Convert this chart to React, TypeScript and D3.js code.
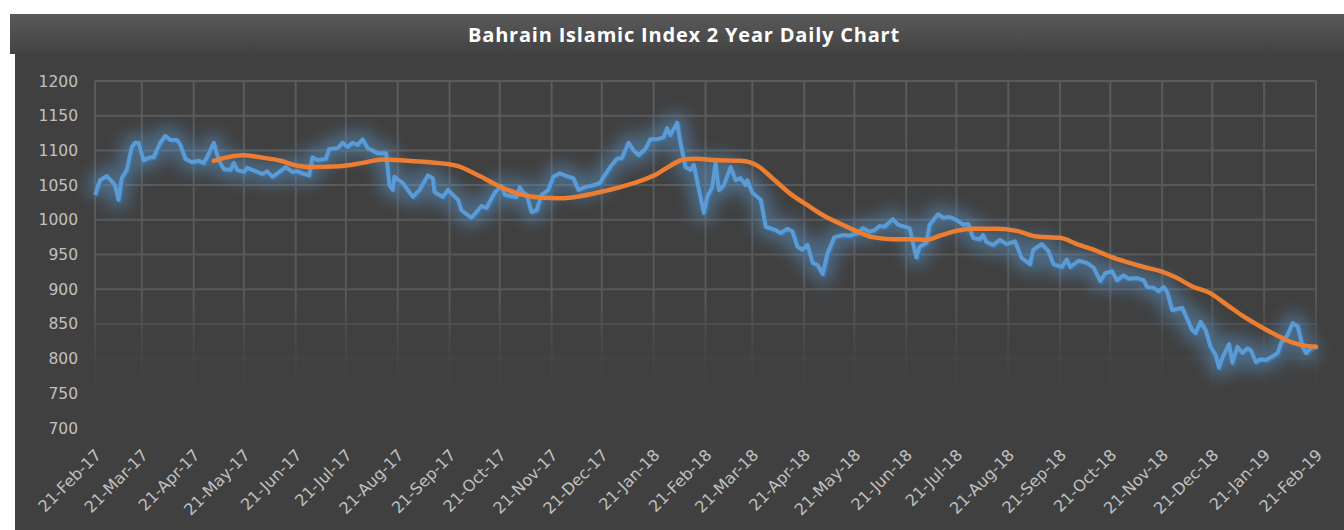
import React, { useEffect, useRef } from 'react';
import * as d3 from 'd3';

const title = "Bahrain Islamic Index 2 Year Daily Chart";
const startDate = new Date(2017, 1, 21);
const endDate = new Date(2019, 1, 21);

// index close, keyed by days since 21-Feb-17
const indexDays = [
    0, 3, 7, 11, 12, 14, 16, 19, 22, 24, 26, 29, 33, 35, 39, 42, 45, 49, 51, 54,
    58, 62, 65, 67, 71, 72, 74, 77, 81, 83, 85, 89, 91, 96, 100, 103, 106, 109, 114, 118,
    121, 124, 128, 130, 133, 138, 140, 145, 148, 151, 154, 157, 160, 163, 166, 169, 172, 174, 176, 178,
    179, 184, 190, 194, 199, 202, 203, 208, 211, 214, 217, 219, 225, 229, 231, 234, 236, 239, 243, 245,
    249, 252, 254, 256, 258, 261, 264, 267, 271, 274, 278, 282, 286, 289, 293, 298, 302, 304, 308, 312,
    315, 319, 322, 325, 329, 332, 336, 340, 342, 344, 348, 350, 353, 356, 358, 364, 366, 369, 371, 373,
    376, 380, 383, 386, 389, 390, 393, 398, 401, 407, 410, 414, 417, 420, 423, 426, 429, 432, 435, 438,
    442, 447, 451, 456, 459, 463, 466, 469, 472, 477, 480, 484, 487, 491, 493, 497, 499, 504, 507, 511,
    515, 519, 522, 525, 529, 531, 533, 537, 541, 545, 550, 554, 559, 561, 566, 570, 573, 578, 581, 583,
    588, 593, 597, 601, 604, 608, 611, 615, 618, 623, 627, 629, 633, 636, 639, 641, 644, 650, 656, 658,
    661, 664, 667, 670, 672, 674, 678, 680, 683, 686, 689, 691, 694, 697, 700, 703, 707, 709, 713, 716,
    719, 722, 724, 727, 730,
];
const indexValues = [
    1036, 1057, 1063, 1053, 1049, 1029, 1060, 1072, 1105, 1111, 1111, 1086, 1090, 1090, 1111, 1121, 1115, 1115, 1108, 1088,
    1083, 1085, 1082, 1090, 1111, 1102, 1086, 1073, 1072, 1082, 1072, 1069, 1075, 1070, 1066, 1070, 1062, 1067, 1076, 1069,
    1070, 1067, 1064, 1090, 1086, 1088, 1102, 1103, 1111, 1105, 1111, 1108, 1116, 1103, 1100, 1096, 1096, 1096, 1050, 1043,
    1062, 1053, 1033, 1043, 1064, 1060, 1040, 1033, 1043, 1036, 1029, 1014, 1003, 1014, 1020, 1017, 1026, 1039, 1049, 1036,
    1034, 1033, 1047, 1039, 1036, 1011, 1014, 1036, 1043, 1062, 1067, 1063, 1060, 1043, 1047, 1050, 1053, 1062, 1076, 1088,
    1089, 1111, 1100, 1093, 1102, 1116, 1116, 1119, 1132, 1122, 1140, 1111, 1076, 1072, 1079, 1010, 1033, 1047, 1082, 1043,
    1050, 1076, 1057, 1060, 1050, 1057, 1039, 1029, 990, 985, 981, 987, 983, 961, 957, 964, 938, 935, 922, 952,
    975, 978, 977, 981, 988, 983, 985, 991, 990, 1001, 993, 990, 988, 946, 961, 967, 993, 1008, 1003, 1004,
    1000, 993, 994, 974, 972, 978, 968, 964, 971, 965, 969, 945, 936, 957, 965, 955, 936, 932, 943, 932,
    941, 938, 931, 912, 923, 926, 913, 920, 915, 916, 913, 903, 902, 897, 903, 896, 870, 873, 841, 837,
    853, 841, 817, 805, 787, 801, 821, 794, 817, 808, 815, 812, 795, 799, 798, 802, 808, 822, 834, 851,
    847, 817, 808, 815, 818,
];

// moving average
const avgDays = [
    71, 79, 88, 99, 111, 121, 130, 146, 160, 172, 187, 200, 216, 230, 242, 254, 266, 278, 290, 302,
    314, 326, 336, 344, 352, 360, 370, 386, 396, 405, 416, 426, 435, 445, 456, 465, 477, 489, 497, 505,
    515, 525, 539, 551, 563, 577, 587, 597, 607, 617, 627, 637, 647, 656, 667, 677, 686, 697, 707, 716,
    725, 730,
];
const avgValues = [
    1085, 1090, 1093, 1090, 1085, 1078, 1076, 1077, 1082, 1087, 1085, 1083, 1078, 1063, 1048, 1037, 1032, 1031, 1034, 1040,
    1047, 1056, 1066, 1078, 1087, 1088, 1086, 1085, 1078, 1060, 1037, 1021, 1007, 995, 983, 975, 972, 972, 971, 977,
    984, 987, 987, 984, 976, 974, 965, 957, 947, 939, 932, 926, 916, 904, 894, 877, 862, 846, 833, 823,
    818, 817,
];

const yTicks = [700, 750, 800, 850, 900, 950, 1000, 1050, 1100, 1150, 1200];

const App: React.FC = () => {
    const ref = useRef<SVGSVGElement | null>(null);

    useEffect(() => {
        if (!ref.current) return;
        const svg = d3.select(ref.current);
        svg.selectAll("*").remove();

        const width = 1344;
        const height = 530;
        const margin = { top: 81, right: 28, bottom: 102, left: 95 };
        const font = "'DejaVu Sans', sans-serif";

        const defs = svg.append("defs");
        const head = defs.append("linearGradient").attr("id", "head").attr("x1", 0).attr("y1", 0).attr("x2", 0).attr("y2", 1);
        head.append("stop").attr("offset", "0%").attr("stop-color", "#5a5a5a");
        head.append("stop").attr("offset", "100%").attr("stop-color", "#424242");

        // gridlines fade out towards the bottom
        const grid = defs.append("linearGradient").attr("id", "gridfade")
            .attr("gradientUnits", "userSpaceOnUse")
            .attr("x1", 0).attr("y1", margin.top).attr("x2", 0).attr("y2", height - margin.bottom);
        grid.append("stop").attr("offset", "0%").attr("stop-color", "#5a5a5a").attr("stop-opacity", 1);
        grid.append("stop").attr("offset", "62%").attr("stop-color", "#585858").attr("stop-opacity", 1);
        grid.append("stop").attr("offset", "78%").attr("stop-color", "#505050").attr("stop-opacity", 0.4);
        grid.append("stop").attr("offset", "92%").attr("stop-color", "#4a4a4a").attr("stop-opacity", 0);

        const glow = defs.append("filter").attr("id", "glow")
            .attr("x", "-10%").attr("y", "-40%").attr("width", "120%").attr("height", "180%");
        glow.append("feGaussianBlur").attr("stdDeviation", 8);

        // background
        svg.append("rect").attr("x", 15).attr("y", 14).attr("width", width - 15).attr("height", height - 14).attr("fill", "#404040");
        svg.append("rect").attr("x", 10).attr("y", 14).attr("width", width - 10).attr("height", 40).attr("fill", "url(#head)");
        svg.append("text")
            .attr("x", 684).attr("y", 42)
            .attr("text-anchor", "middle")
            .attr("fill", "#ffffff")
            .style("font-family", "'Open Sans', sans-serif")
            .style("font-weight", "bold")
            .style("font-size", "20px")
            .style("letter-spacing", "0.8px")
            .text(title);

        const x = d3.scaleTime()
            .domain([startDate, endDate])
            .range([margin.left, width - margin.right]);
        const y = d3.scaleLinear()
            .domain([700, 1200])
            .range([height - margin.bottom, margin.top]);

        const xTicks = d3.range(0, 25).map(i => d3.timeMonth.offset(startDate, i));
        const fmt = d3.timeFormat("%d-%b-%y");

        svg.append("g").selectAll("line").data(yTicks).join("line")
            .attr("x1", margin.left).attr("x2", width - margin.right)
            .attr("y1", d => y(d)).attr("y2", d => y(d))
            .attr("stroke", "url(#gridfade)").attr("stroke-width", 2);
        svg.append("g").selectAll("line").data(xTicks).join("line")
            .attr("x1", d => x(d)).attr("x2", d => x(d))
            .attr("y1", margin.top).attr("y2", height - margin.bottom)
            .attr("stroke", "url(#gridfade)").attr("stroke-width", 2);

        // y labels
        svg.append("g").selectAll("text").data(yTicks).join("text")
            .attr("x", margin.left - 17).attr("y", d => y(d))
            .attr("dy", "0.36em")
            .attr("text-anchor", "end")
            .attr("fill", "#c0c0c0")
            .style("font-family", font).style("font-size", "15.5px")
            .text(d => d);

        // x labels
        svg.append("g").selectAll("text").data(xTicks).join("text")
            .attr("transform", d => `translate(${x(d) + 3},${height - margin.bottom + 24}) rotate(-45)`)
            .attr("dy", "0.36em")
            .attr("text-anchor", "end")
            .attr("fill", "#c0c0c0")
            .style("font-family", font).style("font-size", "16px")
            .text(d => fmt(d));

        const indexData = indexDays.map((d, i) => ({ date: d3.timeDay.offset(startDate, d), value: indexValues[i] }));
        const avgData = avgDays.map((d, i) => ({ date: d3.timeDay.offset(startDate, d), value: avgValues[i] }));

        const indexLine = d3.line<{ date: Date; value: number }>()
            .x(d => x(d.date))
            .y(d => y(d.value));
        const avgLine = d3.line<{ date: Date; value: number }>()
            .x(d => x(d.date))
            .y(d => y(d.value))
            .curve(d3.curveMonotoneX);

        // soft glow and shadow behind the index line
        svg.append("path")
            .datum(indexData)
            .attr("fill", "none")
            .attr("stroke", "#5b9bd5")
            .attr("stroke-opacity", 0.45)
            .attr("stroke-width", 20)
            .attr("stroke-linejoin", "round")
            .attr("filter", "url(#glow)")
            .attr("d", indexLine);
        svg.append("path")
            .datum(indexData)
            .attr("fill", "none")
            .attr("stroke", "#3f6f9c")
            .attr("stroke-width", 4)
            .attr("stroke-linejoin", "round")
            .attr("transform", "translate(1.5,1.5)")
            .attr("d", indexLine);
        svg.append("path")
            .datum(indexData)
            .attr("fill", "none")
            .attr("stroke", "#5b9bd5")
            .attr("stroke-width", 4)
            .attr("stroke-linejoin", "round")
            .attr("d", indexLine);

        svg.append("path")
            .datum(avgData)
            .attr("fill", "none")
            .attr("stroke", "#ed7d31")
            .attr("stroke-width", 4.5)
            .attr("stroke-linejoin", "round")
            .attr("stroke-linecap", "round")
            .attr("d", avgLine);
    }, []);

    return (
        <div style={{ position: "absolute", left: 0, top: 0 }}>
            <svg ref={ref} width={1344} height={530} style={{ display: "block" }} />
        </div>
    );
};

export default App;
